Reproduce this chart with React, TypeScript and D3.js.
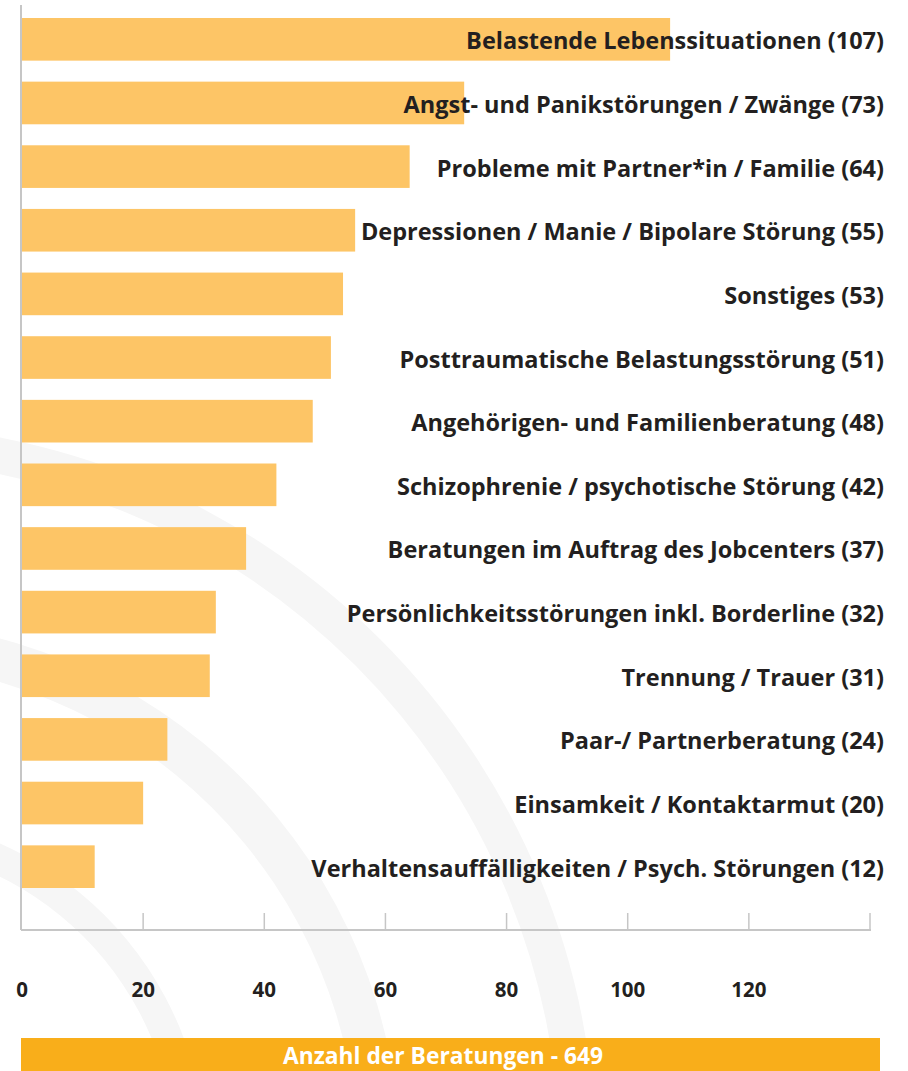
import React from "react";
import * as d3 from "d3";

const categories = [
  "Belastende Lebenssituationen",
  "Angst- und Panikstörungen / Zwänge",
  "Probleme mit Partner*in / Familie",
  "Depressionen / Manie / Bipolare Störung",
  "Sonstiges",
  "Posttraumatische Belastungsstörung",
  "Angehörigen- und Familienberatung",
  "Schizophrenie / psychotische Störung",
  "Beratungen im Auftrag des Jobcenters",
  "Persönlichkeitsstörungen inkl. Borderline",
  "Trennung / Trauer",
  "Paar-/ Partnerberatung",
  "Einsamkeit / Kontaktarmut",
  "Verhaltensauffälligkeiten / Psych. Störungen",
];
const counts = [107, 73, 64, 55, 53, 51, 48, 42, 37, 32, 31, 24, 20, 12];
const tickValues = [0, 20, 40, 60, 80, 100, 120];
const totalLabel = "Anzahl der Beratungen - 649";

const W = 908;
const H = 1071;
const FONT = "'Open Sans', 'DejaVu Sans', sans-serif";

export default function App() {
  const x = d3.scaleLinear().domain([0, 140]).range([22, 870]);
  const y = d3
    .scaleBand<string>()
    .domain(categories)
    .range([18, 888])
    .paddingInner(0.33)
    .paddingOuter(0);

  // faint background swooshes
  const arc = d3.arc<{ r0: number; r1: number }>()
    .innerRadius(d => d.r0)
    .outerRadius(d => d.r1)
    .startAngle(0)
    .endAngle(Math.PI / 2);
  const swooshes = [
    { r0: 700, r1: 736 },
    { r0: 498, r1: 540 },
    { r0: 316, r1: 346 },
  ];

  const axisBottom = 930;

  return (
    <svg
      width={W}
      height={H}
      style={{ position: "absolute", left: 0, top: 0, background: "#fff" }}
    >
      <g transform="translate(-140,1160)">
        {swooshes.map((s, i) => (
          <path key={i} d={arc(s) || ""} fill="#f6f6f6" />
        ))}
      </g>

      {categories.map((c, i) => (
        <rect
          key={c}
          x={x(0)}
          y={y(c)}
          width={x(counts[i]) - x(0)}
          height={y.bandwidth()}
          fill="#fdc566"
        />
      ))}

      {/* axes */}
      <line x1={21} x2={21} y1={5} y2={axisBottom} stroke="#c6c6c6" strokeWidth={2} />
      <line x1={21} x2={871} y1={axisBottom} y2={axisBottom} stroke="#c6c6c6" strokeWidth={2} />
      {[20, 40, 60, 80, 100, 120, 140].map(t => (
        <line
          key={t}
          x1={x(t)}
          x2={x(t)}
          y1={axisBottom - 17}
          y2={axisBottom}
          stroke="#c6c6c6"
          strokeWidth={1.5}
        />
      ))}
      {tickValues.map(t => (
        <text
          key={t}
          x={x(t)}
          y={997}
          textAnchor="middle"
          fontFamily={FONT}
          fontWeight={700}
          fontSize={20.5}
          fill="#231f20"
        >
          {t}
        </text>
      ))}

      {categories.map((c, i) => (
        <text
          key={c}
          x={884}
          y={(y(c) as number) + y.bandwidth() / 2 + 10}
          textAnchor="end"
          fontFamily={FONT}
          fontWeight={700}
          fontSize={23.5}
          fill="#231f20"
        >
          {`${c} (${counts[i]})`}
        </text>
      ))}

      <rect x={21} y={1038} width={859} height={40} fill="#f9ae1a" />
      <text
        x={443}
        y={1064}
        textAnchor="middle"
        fontFamily={FONT}
        fontWeight={700}
        fontSize={22.8}
        fill="#fff"
      >
        {totalLabel}
      </text>
    </svg>
  );
}
